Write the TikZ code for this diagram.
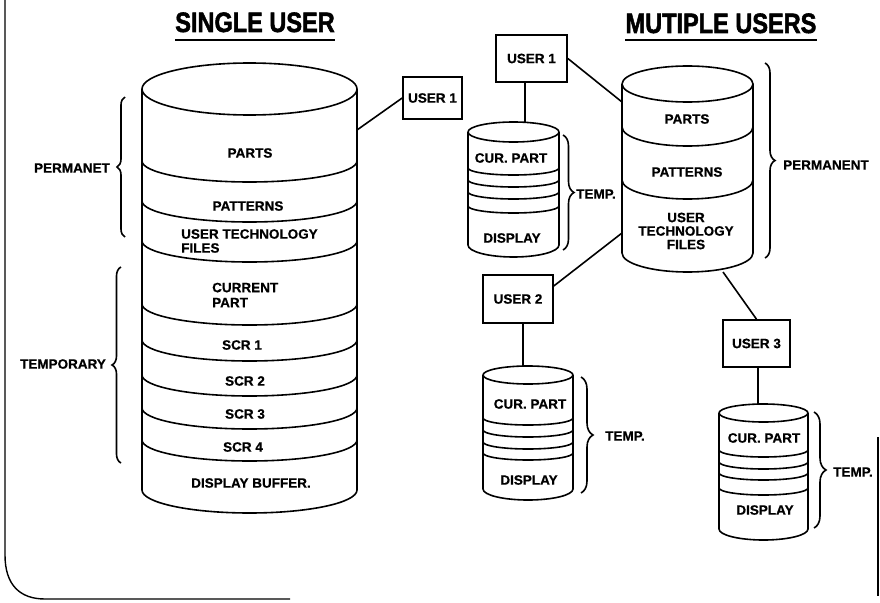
\documentclass[tikz,border=0pt]{standalone}
\usepackage{fontspec}
\setmainfont{Liberation Sans}[BoldFeatures={FakeBold=0.6}]
\newfontfamily\titlefont{Liberation Sans}[BoldFeatures={FakeBold=2}]
\usetikzlibrary{decorations.pathreplacing}
\tikzset{
  cyl/.style={line width=1.6pt, line join=round},
  lbl/.style={inner sep=0pt, font=\fontsize{13.5}{14}\selectfont\bfseries},
  ttl/.style={inner sep=0pt, font=\titlefont\fontsize{28}{30}\selectfont\bfseries, anchor=base},
  userbox/.style={draw, line width=1.6pt, inner sep=0pt, font=\fontsize{13.5}{14}\selectfont\bfseries},
  conn/.style={line width=1.6pt},
  brc/.style={line width=1.6pt, decorate, decoration={brace, amplitude=#1}},
  brc/.default=9pt,
  frame/.style={line width=1.4pt}
}
\begin{document}
\begin{tikzpicture}[x=1pt, y=-1pt]
\useasboundingbox (0,0) rectangle (880,602);

% frame
\draw[frame] (5,0) -- (5,555) .. controls (5,585) and (20,599) .. (45,599) -- (290,599);
\draw[frame] (878,437) -- (878,596);

% titles
\node[ttl] (t1) at (255,32) {\scalebox{0.84}[1]{SINGLE USER}};
\draw[line width=2.5pt] ([yshift=-8pt]t1.base west) -- ([yshift=-8pt]t1.base east);
\node[ttl] (t2) at (721,33) {\scalebox{0.84}[1]{MUTIPLE USERS}};
\draw[line width=2.5pt] ([yshift=-7pt]t2.base west) -- ([yshift=-7pt]t2.base east);

% ---------- single user cylinder ----------
\draw[cyl] (249.5,89) ellipse[x radius=107.5, y radius=26];
\draw[cyl] (142,89) -- (142,490) arc[start angle=180, end angle=0, x radius=107.5, y radius=23] -- (357,89);
\foreach \yy in {161,201,241,304,340,375,408,440}
  \draw[cyl] (142,\yy) arc[start angle=180, end angle=0, x radius=107.5, y radius=21];

\node[lbl] (sparts) at (250,153) {PARTS};
\node[lbl] (spat) at (248,206) {PATTERNS};
\node[lbl, align=left, anchor=west, font=\fontsize{13.5}{14}\selectfont\bfseries] (sutf) at (181,241) {USER TECHNOLOGY\\FILES};
\node[lbl, align=left, anchor=west, font=\fontsize{13.5}{15}\selectfont\bfseries] (scur) at (212,295) {CURRENT\\PART};
\node[lbl] (s1) at (242,345) {SCR 1};
\node[lbl] (s2) at (245,381) {SCR 2};
\node[lbl] (s3) at (245,414) {SCR 3};
\node[lbl] (s4) at (243,447) {SCR 4};
\node[lbl] (sdisp) at (251,483) {DISPLAY BUFFER.};

\node[lbl] (perm1) at (72,168) {PERMANET};
\node[lbl] (temp1) at (63,364) {TEMPORARY};
\draw[brc=8pt] (125,237) -- (125,97);
\draw[brc=9pt] (121,463) -- (121,267);

\node[userbox, minimum width=59pt, minimum height=42pt] (u1s) at (432.5,98) {USER 1};
\coordinate (scyl) at (357,130);
\draw[conn] (scyl) -- (u1s.west);

% ---------- multiple users: main cylinder ----------
\draw[cyl] (687.5,84) ellipse[x radius=65.5, y radius=18];
\draw[cyl] (622,84) -- (622,253) arc[start angle=180, end angle=0, x radius=65.5, y radius=19] -- (753,84);
\foreach \yy in {127,180}
  \draw[cyl] (622,\yy) arc[start angle=180, end angle=0, x radius=65.5, y radius=19];
\node[lbl] (mparts) at (687,119) {PARTS};
\node[lbl] (mpat) at (687,172) {PATTERNS};
\node[lbl, align=center, font=\fontsize{13.5}{13.5}\selectfont\bfseries] (mutf) at (686,231) {USER\\TECHNOLOGY\\FILES};
\draw[brc=10pt] (765,63) -- (765,258);
\node[lbl, anchor=west] (perm2) at (783,165) {PERMANENT};

% ---------- small cylinder 1 ----------
\draw[cyl] (513.5,132) ellipse[x radius=45.5, y radius=10];
\draw[cyl] (468,132) -- (468,245) arc[start angle=180, end angle=0, x radius=45.5, y radius=12] -- (559,132);
\foreach \yy in {168,180,192,206}
  \draw[cyl] (468,\yy) arc[start angle=180, end angle=0, x radius=45.5, y radius=7];
\node[lbl] (c1cur) at (511,158) {CUR. PART};
\node[lbl] (c1disp) at (512,238) {DISPLAY};
\draw[brc=11pt] (563,135) -- (563,250);
\node[lbl, anchor=west] (c1temp) at (576,194) {TEMP.};

% ---------- small cylinder 2 ----------
\draw[cyl] (528,375) ellipse[x radius=45, y radius=9];
\draw[cyl] (483,375) -- (483,489) arc[start angle=180, end angle=0, x radius=45, y radius=11] -- (573,375);
\foreach \yy in {418,430,442,453}
  \draw[cyl] (483,\yy) arc[start angle=180, end angle=0, x radius=45, y radius=7];
\node[lbl] (c2cur) at (530,404) {CUR. PART};
\node[lbl] (c2disp) at (529,480) {DISPLAY};
\draw[brc=12pt] (581,377) -- (581,493);
\node[lbl, anchor=west] (c2temp) at (605,436) {TEMP.};

% ---------- small cylinder 3 ----------
\draw[cyl] (763.5,413) ellipse[x radius=44.5, y radius=9];
\draw[cyl] (719,413) -- (719,529) arc[start angle=180, end angle=0, x radius=44.5, y radius=11] -- (808,413);
\foreach \yy in {450,462,473,488}
  \draw[cyl] (719,\yy) arc[start angle=180, end angle=0, x radius=44.5, y radius=7];
\node[lbl] (c3cur) at (764,438) {CUR. PART};
\node[lbl] (c3disp) at (765,510) {DISPLAY};
\draw[brc=12pt] (814,412) -- (814,528);
\node[lbl, anchor=west] (c3temp) at (833,472) {TEMP.};

% ---------- user boxes and connectors ----------
\node[userbox, minimum width=71pt, minimum height=47pt] (u1m) at (531.5,58.5) {USER 1};
\node[userbox, minimum width=70pt, minimum height=48pt] (u2m) at (518,299) {USER 2};
\node[userbox, minimum width=67pt, minimum height=47pt] (u3m) at (756.5,343.5) {USER 3};

\coordinate (bcylA) at (622,102);
\coordinate (bcylB) at (622,233);
\coordinate (bcylC) at (723,272);
\coordinate (c1top) at (525,123);
\coordinate (c2top) at (523,366);
\coordinate (c3top) at (758,404);

\draw[conn] (u1m.east) -- (bcylA);
\draw[conn] (u1m.south -| c1top) -- (c1top);
\draw[conn] (bcylB) -- (u2m.20);
\draw[conn] (u2m.south -| c2top) -- (c2top);
\draw[conn] (bcylC) -- (u3m.north);
\draw[conn] (u3m.south -| c3top) -- (c3top);
\end{tikzpicture}
\end{document}
